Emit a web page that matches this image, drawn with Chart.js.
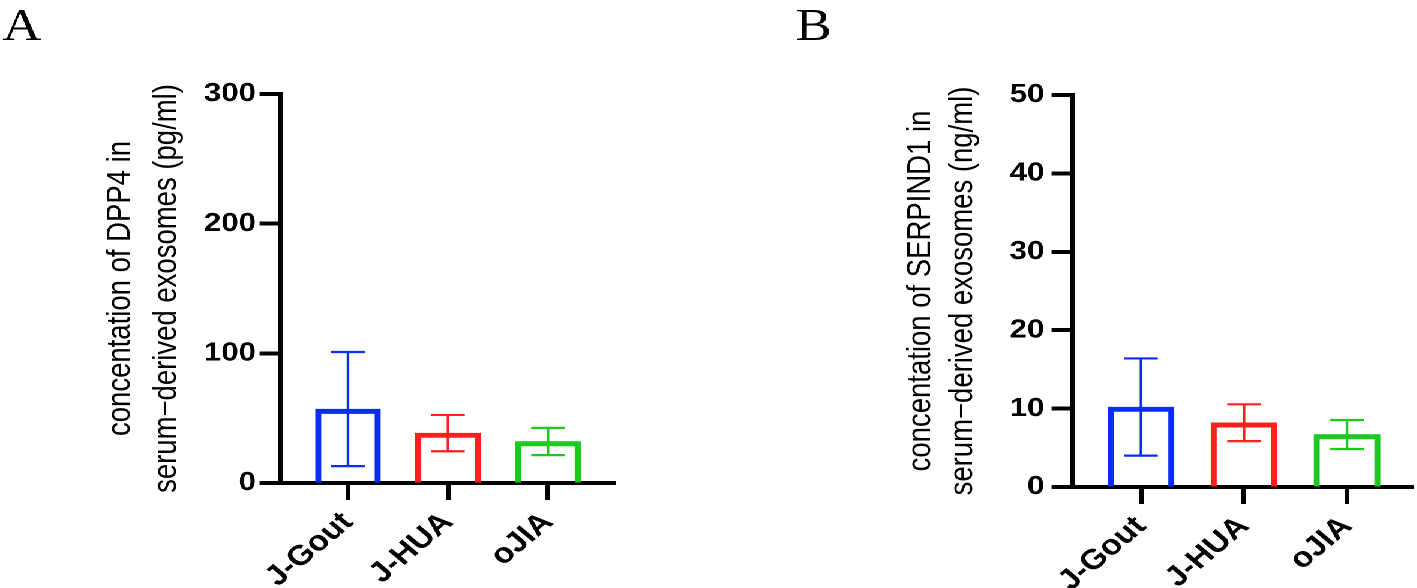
<!DOCTYPE html>
<html><head><meta charset="utf-8">
<script src="https://cdn.jsdelivr.net/npm/chart.js@4.4.1/dist/chart.umd.min.js"></script>
<style>
html,body{margin:0;padding:0;background:#fff;overflow:hidden;}
#wrap{position:absolute;left:0;top:0;width:1181px;height:588px;transform:scaleX(1.2);transform-origin:0 0;}
#ca{position:absolute;left:0;top:0;width:590px;height:588px;}
#cb{position:absolute;left:590px;top:0;width:591px;height:588px;}
</style></head><body>
<div id="wrap"><canvas id="ca" width="590" height="588"></canvas><canvas id="cb" width="591" height="588"></canvas></div>
<script>
const categories = ['J-Gout', 'J-HUA', 'oJIA'];
const dpp4Mean = [57, 38.5, 32];
const dpp4SD = [44, 14, 10.5];
const serpind1Mean = [10.2, 8.2, 6.7];
const serpind1SD = [6.2, 2.35, 1.85];
const yTicksA = [0, 100, 200, 300];
const yTicksB = [0, 10, 20, 30, 40, 50];
const titleA = ['concentation of DPP4 in', 'serum\u2212derived exosomes (pg/ml)'];
const titleB = ['concentation of SERPIND1 in', 'serum\u2212derived exosomes (ng/ml)'];
const barColors = ['#0a2cf5', '#ff1f1f', '#1ec81e'];

const errorBars = {
  id: 'errorBars',
  afterDatasetsDraw(chart, args, o) {
    const {ctx, scales: {x, y}} = chart;
    const ds = chart.data.datasets[0];
    ctx.save();
    ctx.lineWidth = 2.2;
    ds.data.forEach((pt, i) => {
      const cx = x.getPixelForValue(pt.x);
      const top = y.getPixelForValue(pt.y + o.sd[i]);
      const bot = y.getPixelForValue(pt.y - o.sd[i]);
      ctx.strokeStyle = barColors[i];
      ctx.beginPath();
      ctx.moveTo(cx, top); ctx.lineTo(cx, bot);
      ctx.moveTo(cx - o.cap, top); ctx.lineTo(cx + o.cap, top);
      ctx.moveTo(cx - o.cap, bot); ctx.lineTo(cx + o.cap, bot);
      ctx.stroke();
    });
    ctx.restore();
  }
};
const panelLetter = {
  id: 'panelLetter',
  afterDraw(chart, args, o) {
    const ctx = chart.ctx;
    ctx.save();
    ctx.font = '45px "Liberation Serif", "Times New Roman", serif';
    ctx.fillStyle = '#000';
    ctx.textBaseline = 'alphabetic';
    ctx.textAlign = 'left';
    ctx.fillText(o.text, o.x, 40);
    ctx.restore();
  }
};

const yTickFont = {family: '"Liberation Sans", Arial, sans-serif', weight: 'bold', size: 26};
const xTickFont = {family: '"Liberation Sans", Arial, sans-serif', weight: 'bold', size: 28};

function makeChart(id, cfg) {
  return new Chart(document.getElementById(id), {
    type: 'bar',
    data: {datasets: [{
      data: cfg.mean.map((v, i) => ({x: i, y: v})),
      backgroundColor: 'rgba(0,0,0,0)',
      borderColor: barColors,
      borderWidth: 4.4,
      borderSkipped: 'bottom',
      barThickness: cfg.barW
    }]},
    options: {
      responsive: false, animation: false, devicePixelRatio: 2,
      layout: {padding: {left: cfg.padL, top: cfg.padT, right: cfg.padR, bottom: 0}},
      plugins: {
        legend: {display: false}, tooltip: {enabled: false},
        errorBars: {sd: cfg.sd, cap: 14},
        panelLetter: {text: cfg.letter, x: cfg.letterX}
      },
      scales: {
        x: {
          type: 'linear', min: cfg.xmin, max: cfg.xmax, offset: false,
          afterBuildTicks: s => { s.ticks = categories.map((c, i) => ({value: i})); },
          afterFit: s => { s.height = cfg.xH; },
          ticks: {callback: v => categories[v] ?? '', minRotation: 45, maxRotation: 45, autoSkip: false, padding: 6, color: '#000', font: xTickFont},
          grid: {display: true, offset: false, drawOnChartArea: false, drawTicks: true, tickLength: 17, tickWidth: 4, tickColor: '#000'},
          border: {display: true, width: 4, color: '#000'}
        },
        y: {
          min: 0, max: cfg.ymax,
          afterBuildTicks: s => { s.ticks = cfg.yticks.map(v => ({value: v})); },
          afterFit: s => { s.width = cfg.yW; },
          ticks: {padding: cfg.yPad, color: '#000', font: yTickFont},
          grid: {display: true, drawOnChartArea: false, drawTicks: true, tickLength: 17, tickWidth: 4, tickColor: '#000'},
          border: {display: true, width: 4, color: '#000'},
          title: {display: true, text: cfg.title, color: '#000', padding: {top: 0, bottom: 0},
                  font: {family: '"Liberation Sans", Arial, sans-serif', size: 27.5, lineHeight: cfg.titleLH}}
        }
      }
    },
    plugins: [errorBars, panelLetter]
  });
}

makeChart('ca', {mean: dpp4Mean, sd: dpp4SD, yticks: yTicksA, ymax: 300, title: titleA,
  padL: 81, padT: 94, padR: 77.5, yW: 152.3, xH: 105, xmin: -0.68, xmax: 2.67, barW: 54,
  titleLH: '38.75px', yPad: 3, letter: 'A', letterX: 2});
makeChart('cb', {mean: serpind1Mean, sd: serpind1SD, yticks: yTicksB, ymax: 50, title: titleB,
  padL: 159.5, padT: 95, padR: 3.5, yW: 143.8, xH: 101, xmin: -0.67, xmax: 2.64, barW: 55,
  titleLH: '35.4px', yPad: 6, letter: 'B', letterX: 73});
</script>
</body></html>
